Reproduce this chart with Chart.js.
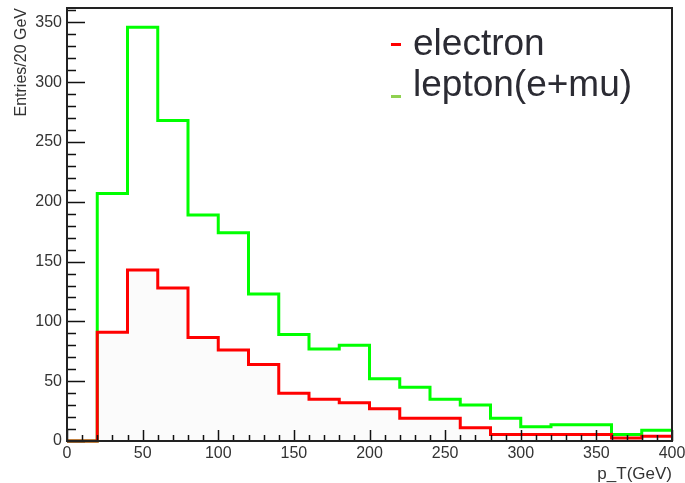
<!DOCTYPE html>
<html>
<head>
<meta charset="utf-8">
<title>p_T distribution</title>
<script src="https://cdn.jsdelivr.net/npm/chart.js@4"></script>
<style>
  html, body { margin: 0; padding: 0; background: #fff; }
  #wrap { position: relative; width: 685px; height: 483px; }
  #wrap canvas { position: absolute; left: 0; top: 0; }
  .key {
    position: absolute; left: 413px;
    font-family: "Liberation Sans", Arial, sans-serif;
    font-size: 37px; line-height: 37px; color: #2b2b33; white-space: nowrap;
  }
  .dash { position: absolute; left: 391px; width: 10px; height: 3px; }
</style>
</head>
<body>
<div id="wrap">
  <canvas id="ptChart" width="685" height="483"></canvas>
  <div class="dash" style="top:43px; background:#ff0000"></div>
  <div class="key" style="top:24px">electron</div>
  <div class="dash" style="top:95px; background:#8fd150"></div>
  <div class="key" style="top:65px">lepton(e+mu)</div>
</div>
<script>
// 20 GeV bins from 0 to 400 GeV
const binEdges = [0, 20, 40, 60, 80, 100, 120, 140, 160, 180, 200,
                  220, 240, 260, 280, 300, 320, 340, 360, 380, 400];
const electronCounts = [0, 91, 143, 128, 86.5, 76, 64, 40, 35, 32,
                        27, 19, 19, 11, 5.5, 5.5, 5.5, 5.5, 2.5, 4];
const leptonCounts = [0, 207, 346, 268, 189, 174, 123, 89, 77, 80,
                      52, 45, 35, 30, 19, 12, 13.5, 13.5, 5.5, 9];
const xTickValues = [0, 50, 100, 150, 200, 250, 300, 350, 400];
const yTickValues = [0, 50, 100, 150, 200, 250, 300, 350];

const FONT = '"Liberation Sans", Arial, sans-serif';

// step outline: one point per lower bin edge, plus the closing edge at 400
function histPoints(counts) {
  return binEdges.map((x, i) => ({ x: x, y: counts[Math.min(i, counts.length - 1)] }));
}

// ROOT-style frame with tick marks pointing into the plot
const frameAndTicks = {
  id: 'frameAndTicks',
  afterDatasetsDraw(chart) {
    const { ctx, chartArea: a, scales: { x, y } } = chart;
    ctx.save();
    ctx.strokeStyle = '#111';
    ctx.lineWidth = 1.5;
    ctx.beginPath();
    for (let v = 0; v <= x.max; v += 10) {
      const px = Math.round(x.getPixelForValue(v)) + 0.5;
      const len = v % 50 === 0 ? 11 : 6;
      ctx.moveTo(px, a.bottom);
      ctx.lineTo(px, a.bottom - len);
    }
    for (let v = 0; v <= y.max; v += 10) {
      const py = Math.round(y.getPixelForValue(v)) + 0.5;
      const len = v % 50 === 0 ? 18 : 9;
      ctx.moveTo(a.left, py);
      ctx.lineTo(a.left + len, py);
    }
    ctx.stroke();
    ctx.lineWidth = 2;
    ctx.strokeStyle = '#222';
    ctx.strokeRect(a.left, a.top, a.right - a.left, a.bottom - a.top);
    ctx.restore();
  }
};

new Chart(document.getElementById('ptChart'), {
  type: 'line',
  data: {
    datasets: [
      {
        label: 'electron',
        data: histPoints(electronCounts),
        stepped: 'before',
        borderColor: '#ff0000',
        borderWidth: 3,
        backgroundColor: 'rgba(0,0,0,0.015)',
        fill: 'origin',
        clip: 3,
        order: 0
      },
      {
        label: 'lepton(e+mu)',
        data: histPoints(leptonCounts),
        stepped: 'before',
        borderColor: '#00ff00',
        borderWidth: 3,
        fill: false,
        clip: 3,
        order: 1
      }
    ]
  },
  options: {
    responsive: false,
    animation: false,
    layout: { padding: { top: 8, right: 13, left: 0, bottom: 0 } },
    elements: { point: { radius: 0 } },
    plugins: { legend: { display: false }, tooltip: { enabled: false } },
    scales: {
      x: {
        type: 'linear',
        min: 0,
        max: 400,
        grid: { display: false, drawTicks: false },
        border: { display: false },
        afterBuildTicks: s => { s.ticks = xTickValues.map(v => ({ value: v })); },
        afterFit: s => { s.height = 42; s.paddingLeft = 0; s.paddingRight = 0; },
        ticks: { font: { family: FONT, size: 16 }, color: '#333', padding: 3, maxRotation: 0 },
        title: {
          display: true, text: 'p_T(GeV)', align: 'end', color: '#333',
          font: { family: FONT, size: 17, lineHeight: 1 }, padding: { top: 0, bottom: 0 }
        }
      },
      y: {
        type: 'linear',
        min: 0,
        max: 362,
        grid: { display: false, drawTicks: false },
        border: { display: false },
        afterBuildTicks: s => { s.ticks = yTickValues.map(v => ({ value: v })); },
        afterFit: s => { s.width = 67; s.paddingTop = 0; s.paddingBottom = 0; },
        ticks: { font: { family: FONT, size: 16 }, color: '#333', padding: 5 },
        title: {
          display: true, text: 'Entries/20 GeV', align: 'end', color: '#333',
          font: { family: FONT, size: 16 }, padding: { top: 12, bottom: 0 }
        }
      }
    }
  },
  plugins: [frameAndTicks]
});
</script>
</body>
</html>
